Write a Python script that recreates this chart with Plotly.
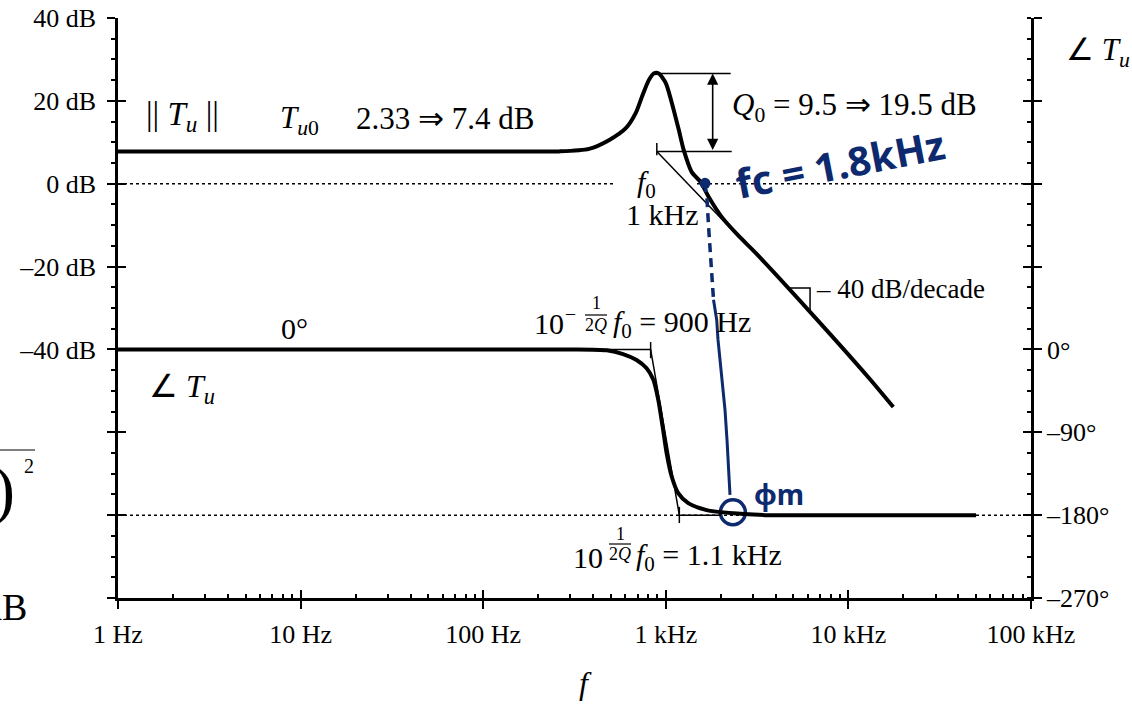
import math
import plotly.graph_objects as go

# ---------------- data ----------------
x_tick_hz = [1, 10, 100, 1000, 10000, 100000]
x_tick_text = ["1 Hz", "10 Hz", "100 Hz", "1 kHz", "10 kHz", "100 kHz"]
x_minor_hz = [2, 3, 4, 5, 6, 7, 8, 9,
              20, 30, 40, 50, 60, 70, 80, 90,
              200, 300, 400, 500, 600, 700, 800, 900,
              2000, 3000, 4000, 5000, 6000, 7000, 8000, 9000,
              20000, 30000, 40000, 50000, 60000, 70000, 80000, 90000]
db_ticks = [-100, -80, -60, -40, -20, 0, 20, 40]
db_tick_text = ["", "", "", "–40 dB", "–20 dB", "0 dB", "20 dB", "40 dB"]
deg_ticks = [-270, -180, -90, 0, 90, 180, 270, 360]
deg_tick_text = ["–270°", "–180°", "–90°", "0°", "", "", "", ""]

# magnitude ||Tu|| (dB)
mag_hz = [1, 100, 260, 380, 488, 604, 685, 739, 807, 859, 915, 1000, 1079, 1178,
          1254, 1387, 1553, 1718, 2022, 2506, 3104, 6040, 12850, 17620]
mag_db = [7.8, 7.8, 7.8, 8.4, 10.5, 13.4, 17.1, 20.9, 25.0, 26.6, 26.6, 24.3, 19.5, 13.0,
          8.1, 2.8, 0.4, -3.2, -8.0, -12.6, -16.7, -30.5, -46.7, -53.9]
# magnitude asymptote and Q bracket lines
mag_asym_hz = [893, 2506]
mag_asym_db = [7.8, -12.8]
flat_line_hz = [893, 2296]
flat_line_db = [7.8, 7.8]
peak_line_hz = [857, 2265]
peak_line_db = [26.6, 26.6]
f0_tick_hz = [893, 893]
f0_tick_db = [6.9, 9.8]
q_arrow_hz = 1806
slope_hz = [4670, 6166, 6166]
slope_db = [-25.2, -25.2, -30.5]
zero_db_hz = [1, 527, None, 1482, 100000]
zero_db_val = [0, 0, None, 0, 0]

# phase angle Tu (degrees)
phase_hz = [1, 100, 300, 475, 583, 692, 785, 855, 910, 961, 1011, 1077, 1170, 1327, 1674,
            2344, 3500, 10000, 50000]
phase_deg = [0, 0, 0, -1, -5, -11.5, -20.5, -33, -55, -84, -113, -138, -156, -167, -174.5,
             -178, -180, -180, -180]
phase_asym_hz = [436, 826, 1186, 2000]
phase_asym_deg = [0, 0, -180, -180]
phase_tick1_hz = [826, 826]
phase_tick1_deg = [8, -9.5]
phase_tick2_hz = [1186, 1186]
phase_tick2_deg = [-171, -188.6]
m180_hz = [1, 100000]
m180_deg = [-180, -180]

# handwritten (blue) annotation
fc_dash_hz = [1640, 1682, 1713, 1746, 1791, 1825]
fc_dash_db = [0.1, -3.9, -10.0, -16.0, -23.2, -28.0]
fc_solid_hz = [1825, 1900, 1932, 1981, 2057, 2110, 2164, 2205, 2247]
fc_solid_db = [-28.0, -32.9, -37.7, -42.5, -49.8, -54.6, -61.9, -69.1, -75.1]
fc_dot_hz = [1640]
fc_dot_db = [0.1]
pm_circle_hz = [2330]
pm_circle_db = [-79.3]

# ---------------- styling ----------------
SERIF = "Liberation Serif"
HAND = "Noto Sans"
BLUE = "#0d2a6e"
W, H = 1132, 704
L, R, T, B = 118, 1031, 18, 598   # plot area in window pixels


def deg_of(db):
    return (db + 40) * 4.5


fig = go.Figure()


def line(x, y, width, yaxis="y", dash=None, color="black", shape="linear"):
    fig.add_trace(go.Scatter(x=x, y=y, mode="lines", yaxis=yaxis, hoverinfo="skip",
                             line=dict(color=color, width=width, dash=dash, shape=shape,
                                       smoothing=0.7 if shape == "spline" else None),
                             showlegend=False, connectgaps=False))


# reference dotted lines
line(zero_db_hz, zero_db_val, 1.5, dash="3px,3px")
line(m180_hz, m180_deg, 1.5, yaxis="y2", dash="3px,3px")

# magnitude
line(mag_asym_hz, mag_asym_db, 1.5)
line(flat_line_hz, flat_line_db, 1.5)
line(peak_line_hz, peak_line_db, 1.5)
line(f0_tick_hz, f0_tick_db, 1.5)
line(slope_hz, slope_db, 1.5)
line(mag_hz, mag_db, 4, shape="spline")

# phase
line(phase_asym_hz, phase_asym_deg, 1.5, yaxis="y2")
line(phase_tick1_hz, phase_tick1_deg, 1.5, yaxis="y2")
line(phase_tick2_hz, phase_tick2_deg, 1.5, yaxis="y2")
line(phase_hz, phase_deg, 4, yaxis="y2", shape="spline")

# handwriting
line(fc_dash_hz, fc_dash_db, 3.5, dash="9px,6px", color=BLUE)
line(fc_solid_hz, fc_solid_db, 3, color=BLUE)
fig.add_trace(go.Scatter(x=fc_dot_hz, y=fc_dot_db, mode="markers", showlegend=False,
                         marker=dict(color=BLUE, size=11), hoverinfo="skip"))
fig.add_trace(go.Scatter(x=pm_circle_hz, y=pm_circle_db, mode="markers", showlegend=False,
                         marker=dict(color=BLUE, size=25, symbol="circle-open",
                                     line=dict(width=3.5, color=BLUE)),
                         hoverinfo="skip"))

# empty traces to register the crossing-tick overlay axes
fig.add_trace(go.Scatter(x=[], y=[], xaxis="x2", yaxis="y", showlegend=False))
fig.add_trace(go.Scatter(x=[], y=[], xaxis="x", yaxis="y3", showlegend=False))
fig.add_trace(go.Scatter(x=[], y=[], xaxis="x", yaxis="y4", showlegend=False))


def P(px, py):
    return (px - L) / (R - L), (B - py) / (B - T)


annotations = []


def note(text, px, py, size=30, xanchor="center", color="black", family=SERIF, angle=0):
    x, y = P(px, py)
    annotations.append(dict(text=text, x=x, y=y, xref="paper", yref="paper",
                            showarrow=False, xanchor=xanchor, yanchor="middle",
                            textangle=angle,
                            font=dict(size=size, color=color, family=family)))


TU = "<i>T</i><sub><i>u</i></sub>"
note("||&nbsp;" + TU + "&nbsp;||", 182, 116, size=33)
note("<i>T</i><sub><i>u</i>0</sub>", 299, 120, size=31)
note("2.33 ⇒ 7.4 dB", 354, 119, size=31, xanchor="left")
note("<i>Q</i><sub>0</sub> = 9.5 ⇒ 19.5 dB", 730, 107, size=31, xanchor="left")
note("<i>f</i><sub>0</sub>", 646, 184, size=30)
note("1 kHz", 662, 214, size=30)
note("– 40 dB/decade", 814, 289, size=27, xanchor="left")
note("0°", 294, 328, size=30)
note("∠ " + TU, 147, 388, size=32, xanchor="left")
note("∠ " + TU, 1064, 52, size=31, xanchor="left")
note("<i>f</i>", 585, 683, size=32)

# 10^(-1/2Q) f0 = 900 Hz
note("10", 549, 323, size=30)
note("–", 570, 313, size=18)
note("1", 596, 303, size=18)
note("2<i>Q</i>", 596, 325, size=18)
note("<i>f</i><sub>0</sub> = 900 Hz", 611, 324, size=30, xanchor="left")
# 10^(1/2Q) f0 = 1.1 kHz
note("10", 588, 557, size=30)
note("1", 620, 534, size=18)
note("2<i>Q</i>", 620, 554, size=18)
note("<i>f</i><sub>0</sub> = 1.1 kHz", 634, 557, size=30, xanchor="left")

# handwritten notes
note("<b>fc = 1.8kHz</b>", 840, 163, size=40, color=BLUE, family=HAND, angle=-11)
note("<b>φm</b>", 779, 494, size=28, color=BLUE, family=HAND)

# cropped content at the left edge
note(")", 17, 490, size=66, xanchor="right")
note("2", 29, 466, size=20)
note("dB", 29, 607, size=38, xanchor="right")

# double arrow for Q
annotations.append(dict(x=math.log10(q_arrow_hz), y=max(peak_line_db), xref="x", yref="y",
                        ax=math.log10(q_arrow_hz), ay=flat_line_db[0], axref="x", ayref="y",
                        text="", showarrow=True, arrowhead=2, arrowside="end+start",
                        arrowsize=1.4, arrowwidth=1.6, arrowcolor="black",
                        standoff=0, startstandoff=0))

shapes = []


def bar(px0, px1, py):
    x0, y = P(px0, py)
    x1, _ = P(px1, py)
    shapes.append(dict(type="line", xref="paper", yref="paper", x0=x0, x1=x1, y0=y, y1=y,
                       line=dict(color="black", width=1.2)))


bar(585, 607, 315)
bar(609, 631, 544)
bar(-5, 35, 450)

tickfont = dict(family=SERIF, size=26, color="black")
common_y = dict(showgrid=False, zeroline=False, fixedrange=True, automargin=False,
                ticklabeloverflow="allow")

fig.update_layout(
    width=W, height=H,
    margin=dict(l=L, r=W - R, t=T, b=H - B, autoexpand=False),
    paper_bgcolor="white", plot_bgcolor="white",
    showlegend=False,
    annotations=annotations,
    shapes=shapes,
    xaxis=dict(type="log", range=[0, 5], tickvals=x_tick_hz, ticktext=x_tick_text,
               ticks="outside", ticklen=8, tickwidth=2, tickcolor="black",
               showline=True, linewidth=2.5, linecolor="black",
               showgrid=False, zeroline=False, tickfont=tickfont, automargin=False,
               ticklabelstandoff=3, ticklabeloverflow="allow",
               minor=dict(tickvals=x_minor_hz, ticks="inside", ticklen=4,
                          tickwidth=1.5, tickcolor="black", showgrid=False)),
    xaxis2=dict(type="log", range=[0, 5], overlaying="x", anchor="y", side="bottom",
                tickvals=x_tick_hz, ticks="inside", ticklen=8, tickwidth=2,
                tickcolor="black", showticklabels=False, showline=False,
                showgrid=False, zeroline=False, automargin=False),
    yaxis=dict(range=[-100, 40], tickvals=db_ticks, ticktext=db_tick_text,
               ticks="outside", ticklen=8, tickwidth=2, tickcolor="black",
               showline=True, linewidth=2.5, linecolor="black", tickfont=tickfont,
               ticklabelstandoff=6,
               minor=dict(dtick=5, tick0=0, ticks="outside", ticklen=4, tickwidth=1.5,
                          tickcolor="black", showgrid=False),
               **common_y),
    yaxis2=dict(range=[deg_of(-100), deg_of(40)], overlaying="y", side="right", anchor="x",
                tickvals=deg_ticks, ticktext=deg_tick_text,
                ticks="outside", ticklen=8, tickwidth=2, tickcolor="black",
                showline=True, linewidth=2.5, linecolor="black", tickfont=tickfont,
                ticklabelstandoff=0,
                minor=dict(dtick=22.5, tick0=0, ticks="inside", ticklen=4, tickwidth=1.5,
                           tickcolor="black", showgrid=False),
                **common_y),
    yaxis3=dict(range=[-100, 40], overlaying="y", side="left", anchor="x",
                tickvals=db_ticks, ticks="inside", ticklen=8, tickwidth=2,
                tickcolor="black", showticklabels=False, showline=False, **common_y),
    yaxis4=dict(range=[-100, 40], overlaying="y", side="right", anchor="x",
                tickvals=db_ticks, ticks="inside", ticklen=8, tickwidth=2,
                tickcolor="black", showticklabels=False, showline=False, **common_y),
)

fig.write_html("out.html", config={"displayModeBar": False},
               post_script="document.body.style.margin='0';")
